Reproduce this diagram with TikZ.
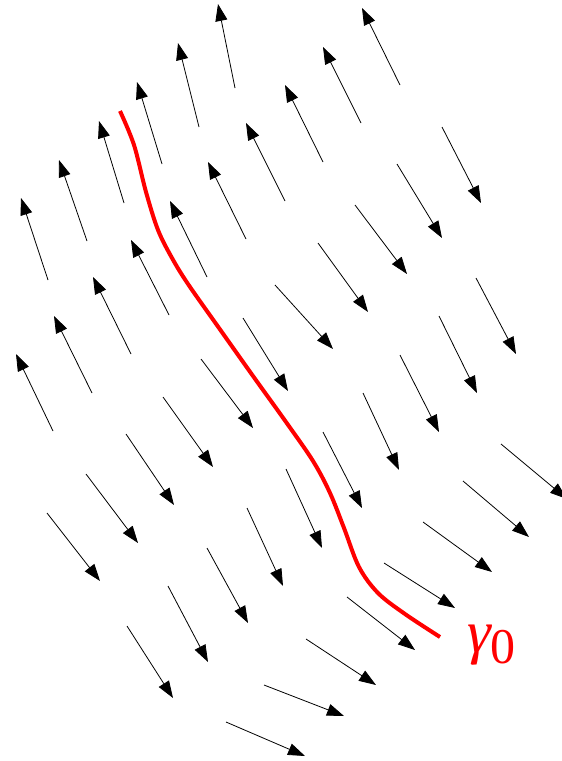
\documentclass[tikz,border=0pt]{standalone}
\usepackage{fontspec}
\newfontfamily\labfont{Liberation Serif}
\usetikzlibrary{arrows.meta}
\begin{document}
\begin{tikzpicture}[x=1pt,y=-1pt,
  vec/.style={line width=0.8pt,-{Triangle[length=17pt,width=12pt]}},
  gamma/.style={red,line width=4pt}]
\clip (0,0) rectangle (562,761);
\foreach \n/\tx/\ty/\hx/\hy in {
 1/235/88/218/4, 2/400/85/362/8, 3/199/127/178/43, 4/361/123/323/47,
 5/162/164/137/82, 6/323/162/285/85, 7/124/203/99/121, 8/285/201/246/123,
 9/442/127/481/203, 10/87/241/59/160, 11/246/239/208/162, 12/397/164/442/238,
 13/48/280/21/198, 14/207/277/170/201, 15/355/205/407/274, 16/169/315/131/240,
 17/318/243/368/312, 18/476/278/516/354, 19/131/354/93/277, 20/275/285/333/349,
 21/439/316/477/393, 22/92/393/54/316, 23/243/318/288/391, 24/400/355/439/432,
 25/53/431/16/354, 26/201/359/253/428, 27/363/393/399/470, 28/163/397/213/467,
 29/323/432/362/508, 30/501/444/567/499, 31/126/434/174/505, 32/286/469/322/548,
 33/463/481/529/537, 34/86/474/138/543, 35/247/508/283/586, 36/423/522/492/572,
 37/47/513/100/581, 38/207/548/248/623, 39/384/563/455/608, 40/347/597/415/650,
 41/168/586/208/662, 42/127/626/173/698, 43/306/639/376/685, 44/264/685/344/716,
 45/226/722/305/756}{
  \coordinate (t\n) at (\tx,\ty);
  \coordinate (h\n) at (\hx,\hy);
  \draw[vec] (t\n) -- (h\n);
}
\draw[gamma] plot[smooth,tension=0.55] coordinates {
 (120,111) (134,145) (146,192) (158,230) (172,258) (188,284) (219,328)
 (253,376) (286,422) (313,461) (330,493) (344,528) (359,567) (378,593)
 (405,614) (440,637)};
\node[red,anchor=base west,inner sep=0pt] (lab) at (467,652)
 {\labfont\fontsize{60}{60}\selectfont\itshape γ\upshape\raisebox{-11pt}{\fontsize{50}{50}\selectfont 0}};
\end{tikzpicture}
\end{document}
